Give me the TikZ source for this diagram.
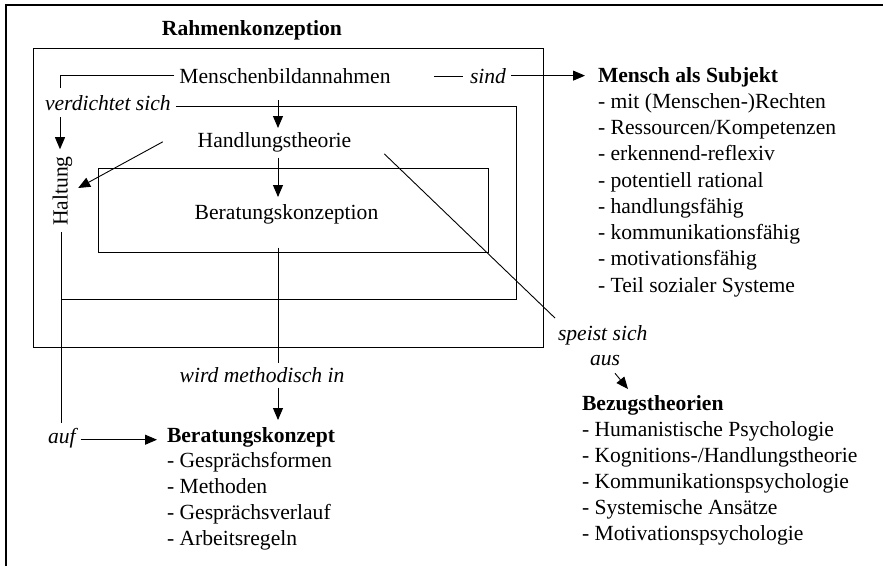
\documentclass[tikz,border=0pt]{standalone}
\usepackage{fontspec}
\setmainfont{Liberation Serif}
\usetikzlibrary{arrows.meta,calc}
\begin{document}
\begin{tikzpicture}[x=1pt,y=-1pt,
  every node/.style={inner sep=0pt, outer sep=0pt, font=\fontsize{21.6}{26}\selectfont},
  txt/.style={anchor=base},
  lbl/.style={anchor=base, font=\fontsize{21.6}{26}\selectfont\itshape},
  head/.style={anchor=base west, font=\fontsize{21.6}{26}\selectfont\bfseries},
  item/.style={anchor=base west},
  line/.style={draw, line width=0.9pt},
  arr/.style={line, -{Triangle[length=12pt,width=10pt]}},
  box/.style={draw, line width=0.9pt}
]
\useasboundingbox (0,0) rectangle (883,566);
% page frame (top and left edge)
\draw[line width=2.2pt] (6,566) -- (6,5) -- (883,5);

% framework boxes
\node[head, anchor=base] (title) at (252,35) {Rahmenkonzeption};
\draw[box] (33.5,48) rectangle (543,347);
\draw[box] (98,168) rectangle (488,252);

% central column
\node[txt] (men) at (285,83) {Menschenbildannahmen};
\node[txt] (hand) at (274.5,147) {Handlungstheorie};
\node[txt] (bk) at (286.5,219) {Beratungskonzeption};
\node[lbl] (wmi) at (262,382) {wird methodisch in};
\node[head] (bkz) at (167,442) {Beratungskonzept};
\foreach \t [count=\i] in {{Gespr\"achsformen},{Methoden},{Gespr\"achsverlauf},{Arbeitsregeln}}
  \node[item] (bkz\i) at (167,{442+25.75*\i}) {- \t};

% left column
\node[lbl, anchor=base west] (vs) at (45,110) {verdichtet sich};
\node[txt, rotate=90] (halt) at (67.5,191) {Haltung};
\node[lbl, anchor=base west] (auf) at (48,443) {auf};

% right side
\node[lbl] (sind) at (488,83) {sind};
\node[head] (mensch) at (598,82) {Mensch als Subjekt};
\foreach \t [count=\i] in {{mit (Menschen-)Rechten},{Ressourcen/Kompetenzen},{erkennend-reflexiv},{potentiell rational},{handlungsf\"ahig},{kommunikationsf\"ahig},{motivationsf\"ahig},{Teil sozialer Systeme}}
  \node[item] (ms\i) at (598,{82+26.25*\i}) {- \t};

\node[lbl, anchor=base west] (speist) at (558,340) {speist sich};
\node[lbl, anchor=base west] (aus) at (590,365) {aus};
\node[head] (bez) at (582,410) {Bezugstheorien};
\foreach \t [count=\i] in {{Humanistische Psychologie},{Kognitions-/Handlungstheorie},{Kommunikationspsychologie},{Systemische Ans\"atze},{Motivationspsychologie}}
  \node[item] (bez\i) at (582,{410+26*\i}) {- \t};

% guide coordinates
\coordinate (axis) at (278,0);
\coordinate (k1) at (60,88);
\coordinate (k2) at (60,117);
\coordinate (m1) at (516,106);
\coordinate (m2) at (516,299);
\coordinate (m3) at (61,299);
\coordinate (s0) at (434,76);

% Menschenbildannahmen -> Haltung
\draw[line] ([xshift=-5pt]men.west) -| (k1);
\draw[arr, shorten >=7pt] (k2) -- (halt.east -| k2);

% Haltung frame around the Handlungstheorie
\draw[line, shorten >=6pt] ([xshift=5pt]vs.east |- m1) -- (m1) -- (m2) -- (m3) -- (m3 |- halt.west);
\draw[line, shorten <=6pt, shorten >=5pt] (halt.west -| m3) -- (auf.north -| m3);
\draw[arr, shorten <=5pt, shorten >=10pt] ([yshift=-2pt]auf.east) -- ([yshift=-2pt]auf.east -| bkz.west);

% central arrows
\draw[arr, shorten <=17pt, shorten >=4pt] (men.south -| axis) -- (hand.north -| axis);
\draw[arr, shorten <=6pt, shorten >=7pt] (hand.south -| axis) -- (bk.north -| axis);
\draw[line, shorten <=24pt, shorten >=4pt] (bk.south -| axis) -- (wmi.north -| axis);
\draw[arr, shorten <=5.5pt, shorten >=7pt] (wmi.south -| axis) -- (bkz.north -| axis);

% Handlungstheorie -> Haltung
\draw[arr] ($(hand.west)+(-35,0)$) -- ($(halt.south)+(6,-3)$);

% sind
\draw[line, shorten >=7pt] (s0) -- (s0 -| sind.west);
\draw[arr, shorten <=5pt, shorten >=13pt] (sind.east) -- (sind.east -| mensch.west);

% speist sich aus
\draw[line] ($(hand.east)+(33,12)$) -- ($(speist.north west)+(-3,-7)$);
\draw[arr] ($(aus.south east)+(-5,8)$) -- ($(bez.north west)+(46,-6)$);
\end{tikzpicture}
\end{document}
